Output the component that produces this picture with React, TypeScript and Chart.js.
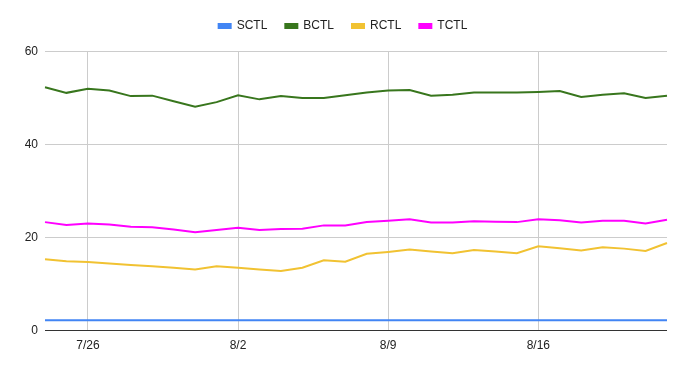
import React, { useEffect, useRef } from "react";
import { Chart, registerables } from "chart.js";

Chart.register(...registerables);

const dates = [
  "7/24", "7/25", "7/26", "7/27", "7/28", "7/29", "7/30", "7/31",
  "8/1", "8/2", "8/3", "8/4", "8/5", "8/6", "8/7", "8/8", "8/9", "8/10",
  "8/11", "8/12", "8/13", "8/14", "8/15", "8/16", "8/17", "8/18", "8/19",
  "8/20", "8/21", "8/22",
];
const shownDates = ["7/26", "8/2", "8/9", "8/16"];
const yTicks = [0, 20, 40, 60];

const sctl = [
  2.1, 2.1, 2.1, 2.1, 2.1, 2.1, 2.1, 2.1, 2.1, 2.1, 2.1, 2.1, 2.1, 2.1, 2.1,
  2.1, 2.1, 2.1, 2.1, 2.1, 2.1, 2.1, 2.1, 2.1, 2.1, 2.1, 2.1, 2.1, 2.1, 2.1,
];
const bctl = [
  52.2, 51.0, 51.9, 51.5, 50.3, 50.4, 49.2, 48.0, 49.0, 50.5, 49.6, 50.3, 49.9,
  49.9, 50.5, 51.1, 51.5, 51.6, 50.4, 50.6, 51.1, 51.1, 51.1, 51.2, 51.4, 50.1,
  50.6, 50.9, 49.9, 50.4,
];
const rctl = [
  15.2, 14.8, 14.6, 14.3, 14.0, 13.7, 13.4, 13.0, 13.7, 13.4, 13.0, 12.7, 13.4,
  15.0, 14.7, 16.4, 16.8, 17.3, 16.9, 16.5, 17.2, 16.9, 16.5, 18.0, 17.6, 17.1,
  17.8, 17.5, 17.0, 18.7,
];
const tctl = [
  23.2, 22.6, 22.9, 22.7, 22.2, 22.1, 21.6, 21.0, 21.5, 22.0, 21.5, 21.7, 21.8,
  22.5, 22.5, 23.2, 23.5, 23.8, 23.1, 23.1, 23.4, 23.3, 23.2, 23.8, 23.6, 23.1,
  23.5, 23.5, 22.9, 23.7,
];

const seriesNames = ["SCTL", "BCTL", "RCTL", "TCTL"];
const seriesColors = ["#4285f4", "#38761d", "#f1c232", "#ff00ff"];

const FONT = "'Liberation Sans', Arial, sans-serif";

const layoutTweak = {
  id: "layoutTweak",
  beforeInit(chart: any) {
    const lg = chart.legend;
    if (lg) {
      const f = lg.fit.bind(lg);
      lg.fit = () => {
        f();
        lg.height += 9;
      };
    }
  },
  afterLayout(chart: any) {
    if (chart.legend) {
      chart.legend.left = 0;
      chart.legend.right = chart.width;
      chart.legend.width = chart.width;
    }
  },
};

export default function App() {
  const ref = useRef<HTMLCanvasElement>(null);

  useEffect(() => {
    document.body.style.margin = "0";
    if (!ref.current) return;
    const data = [sctl, bctl, rctl, tctl];
    const chart = new Chart(ref.current, {
      type: "line",
      data: {
        labels: dates,
        datasets: seriesNames.map((name, i) => ({
          label: name,
          data: data[i],
          borderColor: seriesColors[i],
          backgroundColor: seriesColors[i],
          borderWidth: 2,
          pointRadius: 0,
          tension: 0,
        })),
      },
      options: {
        responsive: false,
        animation: false,
        layout: { padding: { left: 0, right: 19, top: 2, bottom: 0 } },
        plugins: {
          legend: {
            position: "top",
            labels: {
              boxWidth: 12,
              boxHeight: 4,
              padding: 18,
              color: "#222",
              font: { family: FONT, size: 12 },
            },
          },
          tooltip: { enabled: false },
        },
        scales: {
          x: {
            type: "category",
            offset: false,
            border: { display: false },
            grid: {
              drawTicks: false,
              color: (ctx: any) =>
                shownDates.includes(dates[ctx.index]) ? "#cccccc" : "rgba(0,0,0,0)",
            },
            ticks: {
              autoSkip: false,
              maxRotation: 0,
              padding: 8,
              color: "#222",
              font: { family: FONT, size: 12 },
              callback: (_v: any, i: number) =>
                shownDates.includes(dates[i]) ? dates[i] : "",
            },
            afterFit: (scale: any) => {
              scale.height = 39;
            },
          },
          y: {
            min: yTicks[0],
            max: yTicks[yTicks.length - 1],
            border: { display: false },
            grid: {
              drawTicks: false,
              color: (ctx: any) => (ctx.tick && ctx.tick.value === 0 ? "#333333" : "#cccccc"),
            },
            ticks: {
              stepSize: 20,
              padding: 7,
              labelOffset: 1,
              color: "#222",
              font: { family: FONT, size: 12 },
            },
            afterFit: (scale: any) => {
              scale.width = 45;
            },
          },
        },
      },
      plugins: [layoutTweak],
    });
    return () => chart.destroy();
  }, []);

  return (
    <div style={{ width: 686, height: 369 }}>
      <canvas ref={ref} width={686} height={369} />
    </div>
  );
}
